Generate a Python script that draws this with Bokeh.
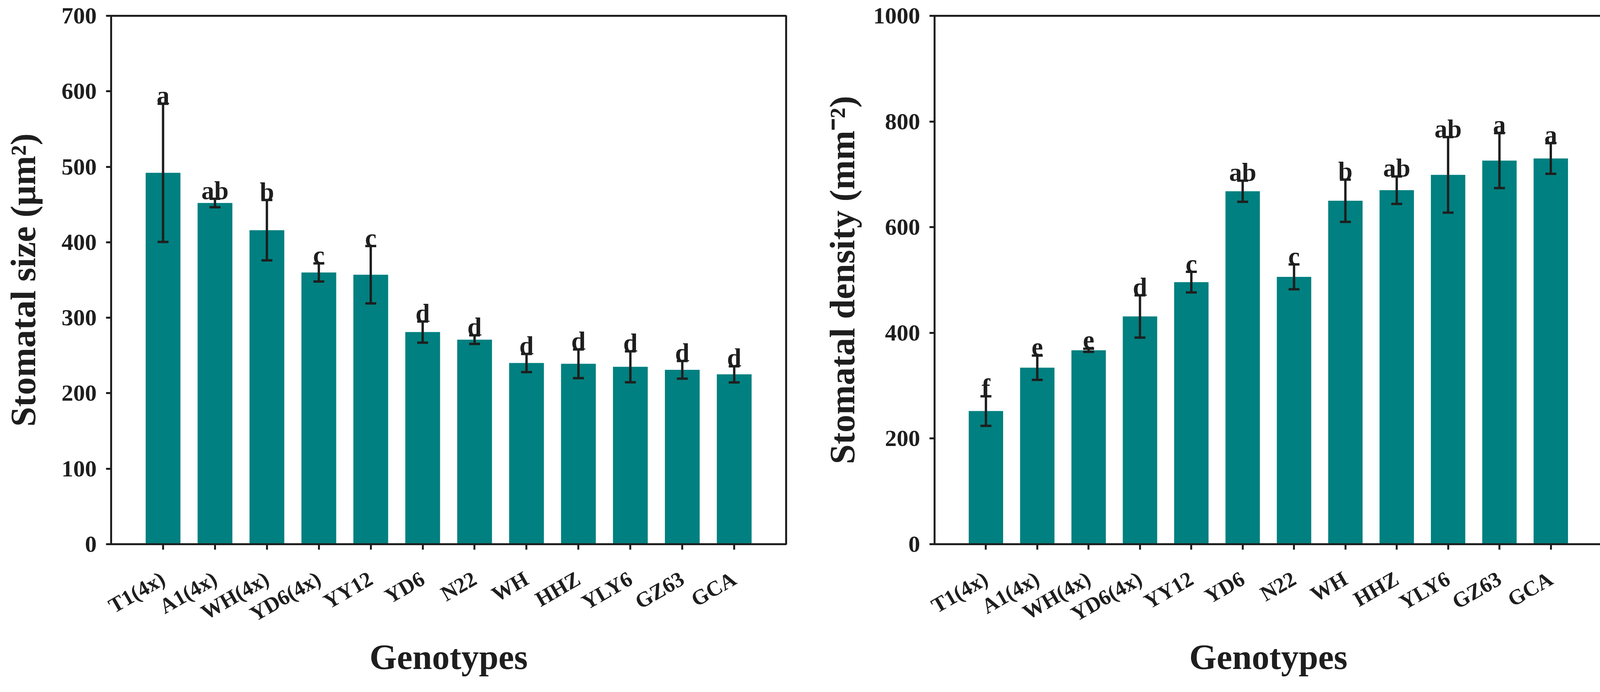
import math
from bokeh.plotting import figure
from bokeh.models import FactorRange, Range1d, FixedTicker, Whisker, TeeHead, ColumnDataSource
from bokeh.layouts import row
from bokeh.embed import file_html
from bokeh.resources import INLINE
from bokeh.core.properties import value

genotypes = ["T1(4x)", "A1(4x)", "WH(4x)", "YD6(4x)", "YY12", "YD6", "N22",
             "WH", "HHZ", "YLY6", "GZ63", "GCA"]

size_mean = [492, 452, 416, 360, 357, 281, 271, 240, 239, 235, 231, 225]
size_err = [91.5, 5.6, 40, 12, 38, 14, 5.7, 12, 19, 20.5, 11.7, 10.7]
size_letters = ["a", "ab", "b", "c", "c", "d", "d", "d", "d", "d", "d", "d"]
size_ticks = [0, 100, 200, 300, 400, 500, 600, 700]

density_mean = [252, 334, 367, 431, 496, 668, 506, 650, 670, 699, 726, 730]
density_err = [28, 23, 3, 40, 19.5, 20, 23.5, 40, 26, 71.5, 52, 29]
density_letters = ["f", "e", "e", "d", "c", "ab", "c", "b", "ab", "ab", "a", "a"]
density_ticks = [0, 200, 400, 600, 800, 1000]

FONT = "Liberation Serif"
TEAL = "#008080"
INK = "#1e1e1e"


def make(means, errs, letters, ticks, ylabel, width, borders, ylab_standoff, xlab_standoff):
    src = ColumnDataSource(dict(
        g=genotypes, m=means,
        up=[m + e for m, e in zip(means, errs)],
        lo=[m - e for m, e in zip(means, errs)],
        lab=letters))
    p = figure(x_range=FactorRange(factors=genotypes, range_padding=1 / 12,
                                   range_padding_units="percent"),
               y_range=Range1d(ticks[0], ticks[-1]),
               width=width, height=1756, output_backend="svg", toolbar_location=None,
               min_border_left=borders[0], min_border_right=borders[1],
               min_border_top=borders[2], min_border_bottom=borders[3])
    p.vbar(x="g", top="m", width=0.67, source=src, fill_color=TEAL, line_color=None)
    head = dict(size=28, line_width=6, line_color=INK)
    w = Whisker(base="g", upper="up", lower="lo", source=src, line_color=INK, line_width=6,
                upper_head=TeeHead(**head), lower_head=TeeHead(**head), level="annotation")
    p.add_layout(w)
    p.text(x="g", y="up", text="lab", source=src, text_font=value(FONT),
           text_font_style="bold", text_font_size="66px", text_align="center",
           text_baseline="alphabetic", y_offset=-22, text_color=INK)

    p.grid.visible = False
    p.outline_line_color = INK
    p.outline_line_width = 5
    p.outline_line_alpha = 1.0
    p.background_fill_color = "white"
    p.border_fill_color = "white"

    for ax in (p.xaxis[0], p.yaxis[0]):
        ax.axis_line_width = 5
        ax.axis_line_color = INK
        ax.major_tick_line_width = 5
        ax.major_tick_line_color = INK
        ax.major_tick_in = 0
        ax.minor_tick_line_color = None
        ax.major_label_text_font = FONT
        ax.major_label_text_font_style = "bold"
        ax.major_label_text_color = INK
        ax.axis_label_text_font = FONT
        ax.axis_label_text_font_style = "bold"
        ax.axis_label_text_color = INK

    p.yaxis.ticker = FixedTicker(ticks=ticks)
    p.yaxis.major_tick_out = 13
    p.yaxis.major_label_text_font_size = "60px"
    p.yaxis.major_label_standoff = 24
    p.yaxis.axis_label = ylabel
    p.yaxis.axis_label_text_font_size = "91px"
    p.yaxis.axis_label_standoff = ylab_standoff

    p.xaxis.major_tick_out = 14
    p.xaxis.major_label_orientation = math.radians(30)
    p.xaxis.major_label_text_font_size = "55px"
    p.xaxis.major_label_standoff = 70
    p.xaxis.axis_label = "Genotypes"
    p.xaxis.axis_label_text_font_size = "90px"
    p.xaxis.axis_label_standoff = xlab_standoff
    return p


p1 = make(size_mean, size_err, size_letters, size_ticks, "Stomatal size (\u03bcm\u00b2)",
          2102, (284, 90, 40, 350), 45, 0)
p2 = make(density_mean, density_err, density_letters, density_ticks,
          "Stomatal density (mm\u207b\u00b2)",
          2001, (284, 2, 25, 363), 26, 0)

layout = row(p1, p2)
open("out.html", "w").write(file_html(layout, INLINE))
